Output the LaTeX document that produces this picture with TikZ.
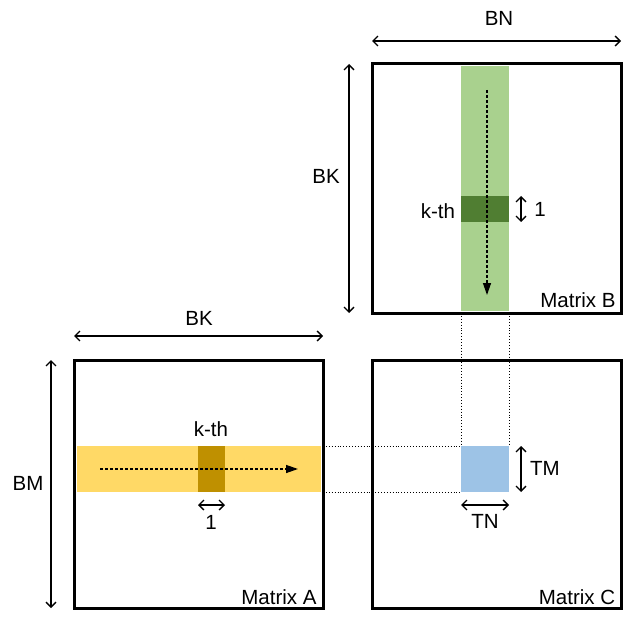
\documentclass[tikz,border=0pt]{standalone}
\usepackage{fontspec}
\setmainfont{Liberation Sans}
\usetikzlibrary{arrows.meta}
\definecolor{lgreen}{HTML}{A9D18E}
\definecolor{dgreen}{HTML}{507E32}
\definecolor{lyellow}{HTML}{FFD966}
\definecolor{dyellow}{HTML}{BF9000}
\definecolor{lblue}{HTML}{9DC3E6}
\tikzset{
  mat/.style={draw=black, line width=3pt},
  dim/.style={line width=1.3pt, {Straight Barb[length=5pt,width=10pt]}-{Straight Barb[length=5pt,width=10pt]}},
  flow/.style={densely dashed, line width=1.3pt, -{Triangle[length=12pt,width=8pt]}},
  guide/.style={dotted, line width=0.9pt},
  lbl/.style={font=\fontsize{20.5}{24}\selectfont, inner sep=0pt},
}
\begin{document}
\begin{tikzpicture}[x=1pt,y=-1pt]
\useasboundingbox (0,0) rectangle (634,620);
% fills
\fill[lgreen] (461,66) rectangle (509,311);
\fill[dgreen] (461,196) rectangle (509,222);
\fill[lyellow] (77,446) rectangle (321,492);
\fill[dyellow] (198,446) rectangle (225,492);
\fill[lblue] (461,446) rectangle (509,492);
% matrices
\node[mat, minimum width=249pt, minimum height=249pt, inner sep=0pt] (B) at (496.5,188.5) {};
\node[mat, minimum width=249pt, minimum height=248pt, inner sep=0pt] (A) at (198.5,484) {};
\node[mat, minimum width=249pt, minimum height=248pt, inner sep=0pt] (C) at (496.5,484) {};
\node[lbl] (lB) at (578,300) {Matrix B};
\node[lbl] (lA) at (279,597) {Matrix A};
\node[lbl] (lC) at (577,597) {Matrix C};
% coordinates
\coordinate (bn1) at (372,41); \coordinate (bn2) at (621,41);
\coordinate (bk1) at (349,64); \coordinate (bk2) at (349,313);
\coordinate (ak1) at (74,336); \coordinate (ak2) at (323,336);
\coordinate (bm1) at (51,360); \coordinate (bm2) at (51,608);
\coordinate (g1) at (521,196); \coordinate (g2) at (521,222);
\coordinate (y1) at (198,505); \coordinate (y2) at (225,505);
\coordinate (tm1) at (521,446); \coordinate (tm2) at (521,492);
\coordinate (tn1) at (461,505); \coordinate (tn2) at (509,505);
\coordinate (fb1) at (487,90); \coordinate (fb2) at (487,295);
\coordinate (fa1) at (100,469); \coordinate (fa2) at (298,469);
% dimension arrows
\draw[dim] (bn1) -- (bn2);
\draw[dim] (bk1) -- (bk2);
\draw[dim] (ak1) -- (ak2);
\draw[dim] (bm1) -- (bm2);
\draw[dim] (g1) -- (g2);
\draw[dim] (y1) -- (y2);
\draw[dim] (tm1) -- (tm2);
\draw[dim] (tn1) -- (tn2);
% labels
\node[lbl] (tBN) at (499,18) {BN};
\node[lbl] (tBK) at (326,176) {BK};
\node[lbl] (tAK) at (199,318) {BK};
\node[lbl] (tBM) at (28,483) {BM};
\node[lbl] (tk1) at (438,211) {k-th};
\node[lbl] (t1a) at (540,209) {1};
\node[lbl] (tk2) at (211,429) {k-th};
\node[lbl] (t1b) at (211,522) {1};
\node[lbl] (tTM) at (545,468) {TM};
\node[lbl] (tTN) at (485,521) {TN};
% flow arrows
\draw[flow] (fb1) -- (fb2);
\draw[flow] (fa1) -- (fa2);
% guides
\coordinate (d1) at (323,446); \coordinate (d2) at (461,446);
\coordinate (d3) at (323,492); \coordinate (d4) at (461,492);
\coordinate (d5) at (461,313); \coordinate (d6) at (509,313);
\coordinate (d7) at (509,446);
\draw[guide] (d1) -- (d2);
\draw[guide] (d3) -- (d4);
\draw[guide] (d5) -- (d2);
\draw[guide] (d6) -- (d7);
\end{tikzpicture}
\end{document}
